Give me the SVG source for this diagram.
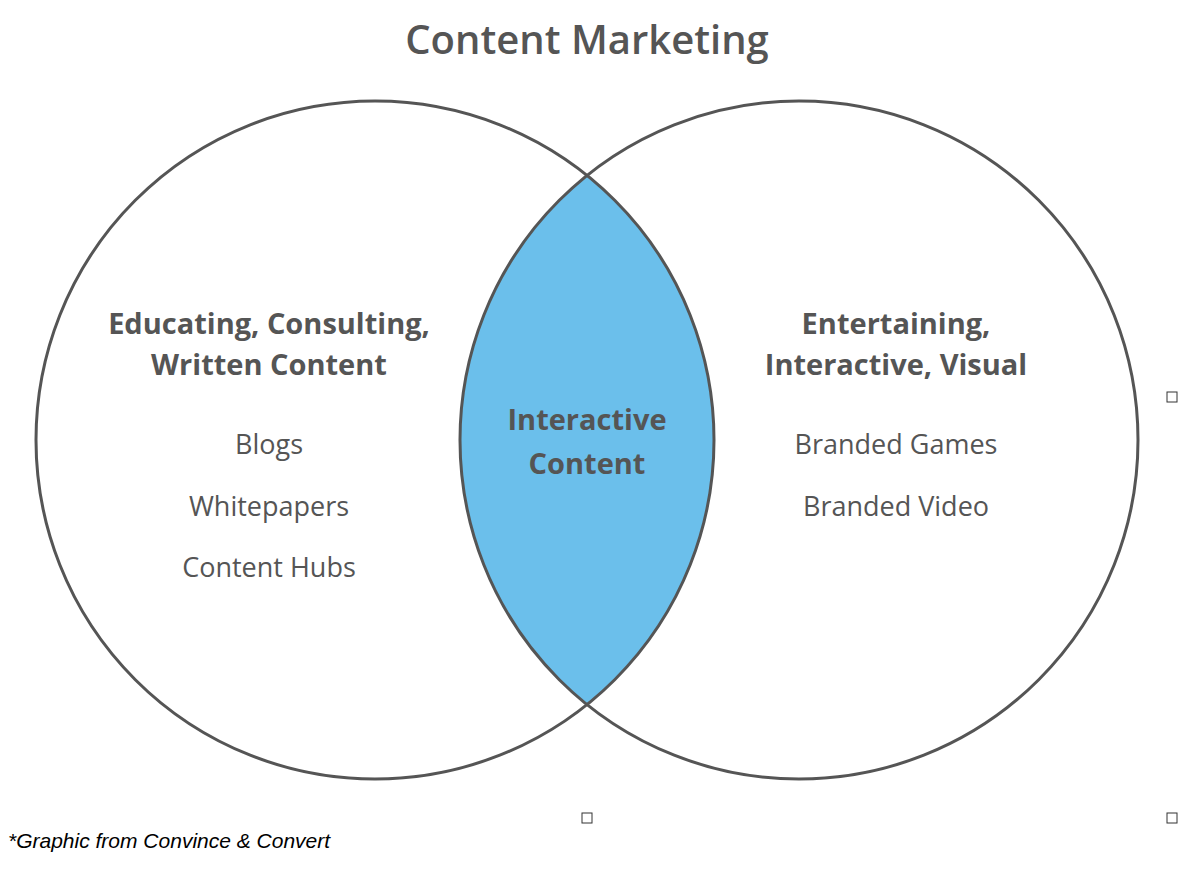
<svg xmlns="http://www.w3.org/2000/svg" width="1204" height="878" viewBox="0 0 1204 878">
<style>
text{font-family:"Open Sans","DejaVu Sans",sans-serif;fill:#555;text-anchor:middle}
.h{font-weight:bold;font-size:29px}
.i{font-size:27px}
.c{fill:none;stroke:#555;stroke-width:3}
.sq{fill:#fff;stroke:#333;stroke-width:1}
</style>
<rect width="1204" height="878" fill="#fff"/>
<text x="587" y="54" font-size="40" style="font-weight:600">Content Marketing</text>
<g id="overlap"><path d="M587,176 A339,339 0 0 1 587,704 A339,339 0 0 1 587,176 Z" fill="#6bbfeb"/></g>
<g id="left"><circle class="c" cx="375" cy="440" r="339"/>
<text class="h" x="269" y="334">Educating, Consulting,</text>
<text class="h" x="269" y="375">Written Content</text>
<text class="i" x="269" y="454">Blogs</text>
<text class="i" x="269" y="516">Whitepapers</text>
<text class="i" x="269" y="577">Content Hubs</text></g>
<g id="right"><circle class="c" cx="799" cy="440" r="339"/>
<text class="h" x="896" y="334">Entertaining,</text>
<text class="h" x="896" y="375">Interactive, Visual</text>
<text class="i" x="896" y="454">Branded Games</text>
<text class="i" x="896" y="516">Branded Video</text></g>
<g id="center"><text class="h" x="587" y="430">Interactive</text>
<text class="h" x="587" y="474">Content</text></g>
<rect class="sq" x="1167" y="392" width="10" height="10"/>
<rect class="sq" x="582" y="813" width="10" height="10"/>
<rect class="sq" x="1167" y="813" width="10" height="10"/>
<text x="8" y="848" style="font-family:'Liberation Sans',Arial,sans-serif;font-style:italic;font-size:21px;fill:#000;text-anchor:start">*Graphic from Convince &amp; Convert</text>
</svg>
